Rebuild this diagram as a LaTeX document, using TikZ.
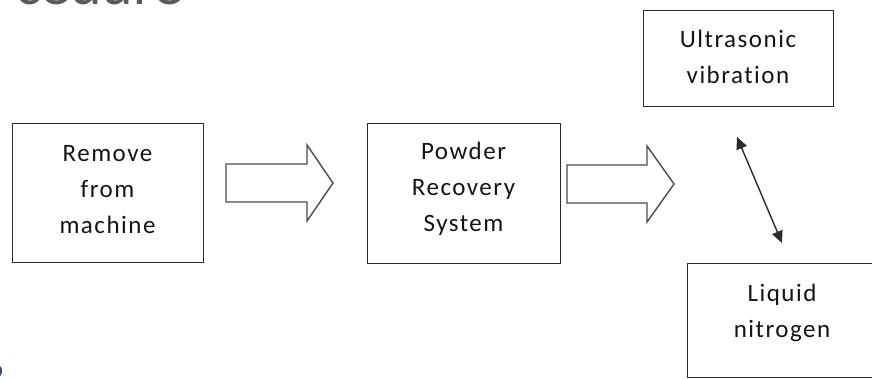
\documentclass[tikz,border=0pt]{standalone}
\usepackage{fontspec}
\setmainfont{Carlito}[Ligatures=NoCommon]
\usetikzlibrary{arrows.meta}
\definecolor{boxline}{HTML}{2B2B2B}
\definecolor{txt}{HTML}{141414}
\definecolor{titlegrey}{HTML}{5A5A5A}
\definecolor{slideblue}{HTML}{1F4E9A}
\tikzset{
  x=1pt, y=-1pt,
  stepbox/.style={draw=boxline, line width=1.4pt, inner sep=0pt, anchor=north west},
  boxtext/.style={text=txt, font=\fontsize{25}{36}\selectfont\addfontfeature{LetterSpace=6,Ligatures=NoCommon}, align=center, inner sep=0pt},
  blockarrow/.style={draw=boxline!85, line width=1.4pt, line join=miter, fill=white},
  dbl/.style={draw=boxline, line width=1.4pt, {Triangle[length=12pt,width=11pt]}-{Triangle[length=12pt,width=11pt]}}
}
\begin{document}
\begin{tikzpicture}
\useasboundingbox (0,0) rectangle (872,378);
% partial slide title (cut off at the top edge, as in the reference)
\node[anchor=base west, inner sep=0pt, text=titlegrey, font=\fontsize{60}{60}\selectfont] (title) at (15,4) {cedure};
% blue fragment at bottom left
\fill[slideblue] (-4,371) ellipse [x radius=6, y radius=7];
% boxes
\node[stepbox, minimum width=191pt, minimum height=139pt] (b1) at (12,123) {};
\node[stepbox, minimum width=193pt, minimum height=140pt] (b2) at (367,123) {};
\node[stepbox, minimum width=190pt, minimum height=96pt] (b3) at (643,10) {};
\node[stepbox, minimum width=190pt, minimum height=114pt] (b4) at (687,263) {};
% texts
\node[boxtext] (t1) at (107.5,190) {Remove\\from\\machine};
\node[boxtext] (t2) at (463.5,189) {Powder\\Recovery\\System};
\node[boxtext] (t3) at (738,57) {Ultrasonic\\vibration};
\node[boxtext] (t4) at (782,313) {Liquid\\nitrogen};
% block arrows
\draw[blockarrow] (226,164) -- (307,164) -- (307,145) -- (333,183) -- (307,221) -- (307,202) -- (226,202) -- cycle;
\draw[blockarrow] (567,165) -- (647,165) -- (647,146) -- (674,184) -- (647,222) -- (647,203) -- (567,203) -- cycle;
% double arrow
\coordinate (d1) at (737,137);
\coordinate (d2) at (782,243);
\draw[dbl] (d1) -- (d2);
\end{tikzpicture}
\end{document}
